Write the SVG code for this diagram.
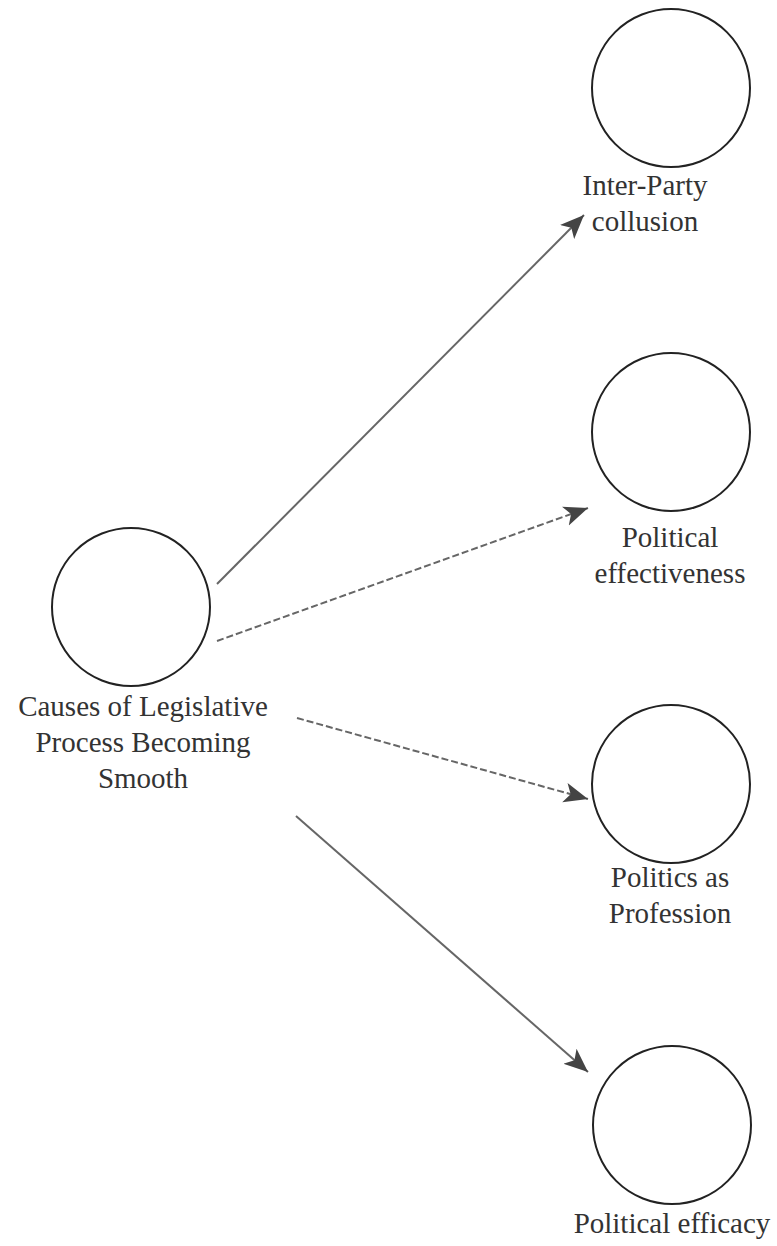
<svg xmlns="http://www.w3.org/2000/svg" width="777" height="1246" viewBox="0 0 777 1246">
<style>
.node circle{fill:#fff;stroke:#222;stroke-width:2}
.node text{font-family:"Liberation Serif","Times New Roman",serif;font-size:29px;fill:#333;text-anchor:middle}
.edge{stroke:#666;stroke-width:2;fill:none}
.dash{stroke-dasharray:7 3}
</style>
<defs>
<marker id="arr" markerUnits="userSpaceOnUse" markerWidth="26" markerHeight="22" viewBox="0 -11 26 22" refX="24" refY="0" orient="auto">
<path d="M0,-10 L24,0 L0,10 L6,0 Z" fill="#444"/>
</marker>
</defs>
<rect width="777" height="1246" fill="#fff"/>
<g id="connectors">
<line class="edge" x1="217" y1="584" x2="584" y2="215" marker-end="url(#arr)"/>
<line class="edge dash" x1="217" y1="641" x2="588" y2="508" marker-end="url(#arr)"/>
<line class="edge dash" x1="297" y1="718" x2="588" y2="799" marker-end="url(#arr)"/>
<line class="edge" x1="296" y1="816" x2="588" y2="1072" marker-end="url(#arr)"/>
</g>
<g id="n-causes" class="node">
<circle cx="131" cy="607" r="79"/>
<text x="143" y="716">Causes of Legislative</text>
<text x="143" y="752">Process Becoming</text>
<text x="143" y="788">Smooth</text>
</g>
<g id="n-collusion" class="node">
<circle cx="671" cy="88" r="79"/>
<text x="645" y="195">Inter-Party</text>
<text x="645" y="231">collusion</text>
</g>
<g id="n-effectiveness" class="node">
<circle cx="671" cy="432" r="79"/>
<text x="670" y="547">Political</text>
<text x="670" y="583">effectiveness</text>
</g>
<g id="n-profession" class="node">
<circle cx="671" cy="784" r="79"/>
<text x="670" y="887">Politics as</text>
<text x="670" y="923">Profession</text>
</g>
<g id="n-efficacy" class="node">
<circle cx="672" cy="1125" r="79"/>
<text x="672" y="1233">Political efficacy</text>
</g>
</svg>
